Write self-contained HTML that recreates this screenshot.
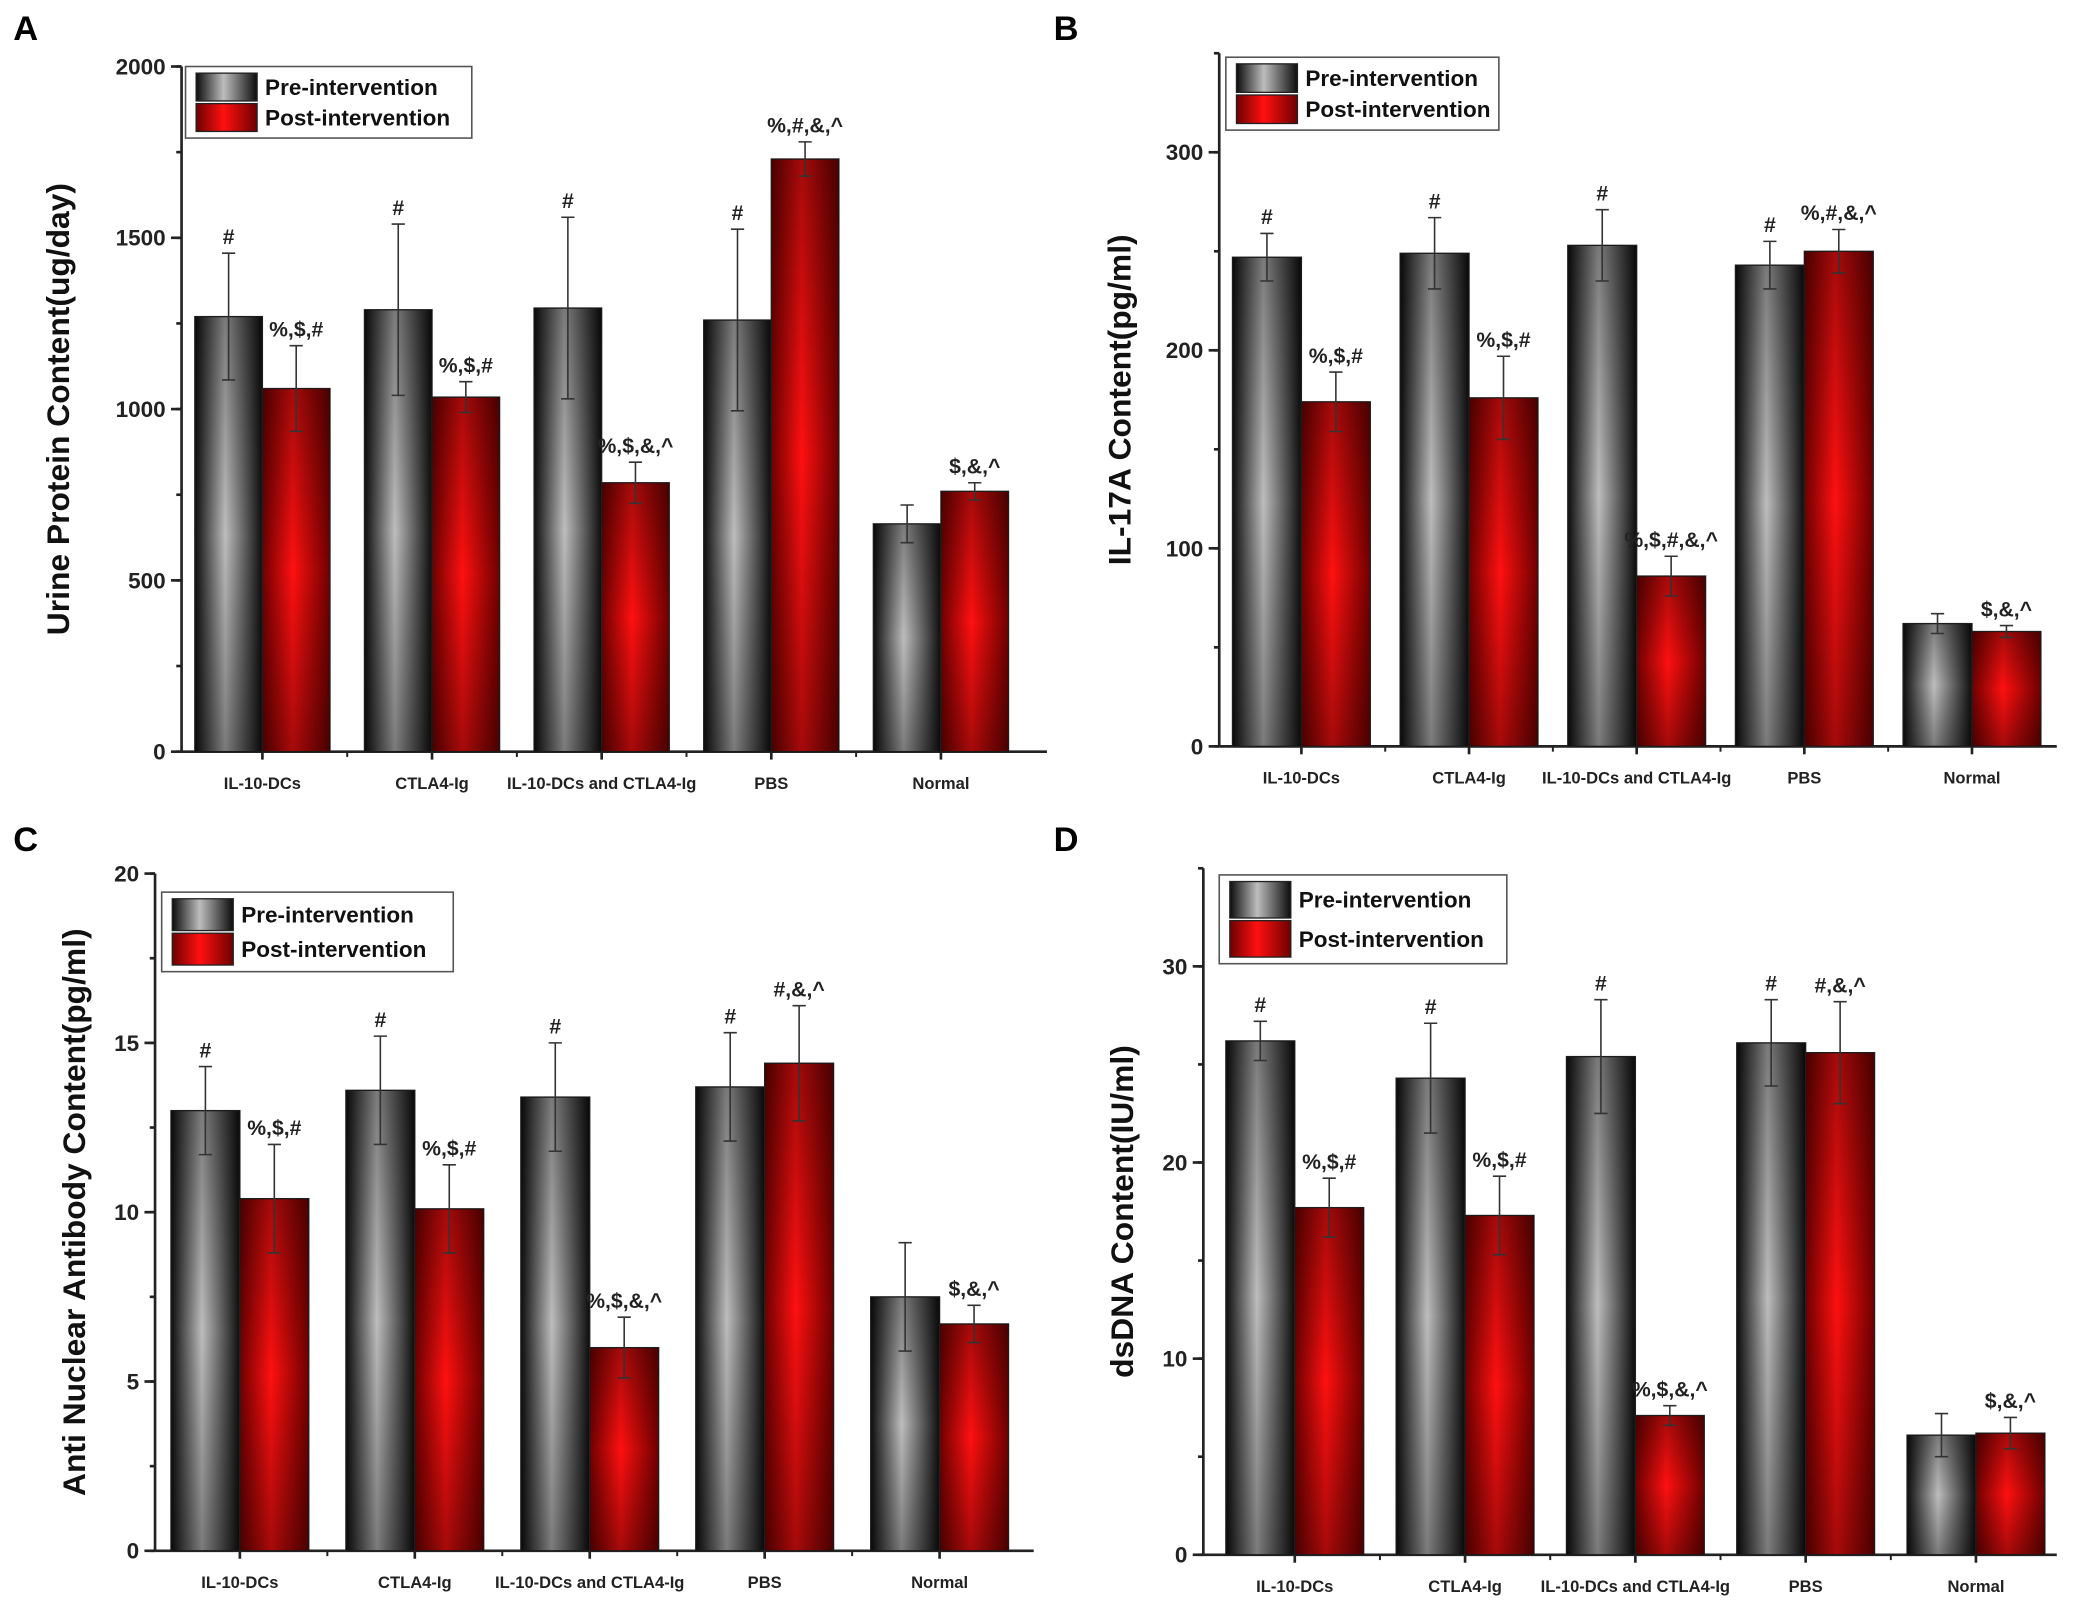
<!DOCTYPE html>
<html><head><meta charset="utf-8"><style>
html,body{margin:0;padding:0;background:#fff;}
svg{display:block;font-family:"Liberation Sans",Arial,sans-serif;font-weight:bold;}
</style></head><body>
<svg id="fig" width="2078" height="1612" viewBox="0 0 1568 1216" xmlns="http://www.w3.org/2000/svg">
<defs>
<linearGradient id="gPre" x1="0" x2="1" y1="0" y2="0">
<stop offset="0" stop-color="#0c0c0c"/><stop offset="0.45" stop-color="#bdbdbd"/><stop offset="1" stop-color="#0c0c0c"/></linearGradient>
<linearGradient id="gPost" x1="0" x2="1" y1="0" y2="0">
<stop offset="0" stop-color="#6e0000"/><stop offset="0.45" stop-color="#ff1010"/><stop offset="1" stop-color="#6e0000"/></linearGradient>
<linearGradient id="gV" x1="0" x2="0" y1="0" y2="1">
<stop offset="0" stop-color="#000" stop-opacity="0.35"/><stop offset="0.5" stop-color="#000" stop-opacity="0"/><stop offset="1" stop-color="#000" stop-opacity="0.35"/></linearGradient>
</defs>
</svg>
<script>
const categories = ["IL-10-DCs","CTLA4-Ig","IL-10-DCs and CTLA4-Ig","PBS","Normal"];
const preA = [1270,1290,1295,1260,665], postA = [1060,1035,785,1730,760];
const preAErr = [185,250,265,265,55], postAErr = [125,45,60,50,25];
const preAnnA = ["#","#","#","#",""], postAnnA = ["%,$,#","%,$,#","%,$,&,^","%,#,&,^","$,&,^"];
const preB = [247,249,253,243,62], postB = [174,176,86,250,58];
const preBErr = [12,18,18,12,5], postBErr = [15,21,10,11,3];
const preAnnB = ["#","#","#","#",""], postAnnB = ["%,$,#","%,$,#","%,$,#,&,^","%,#,&,^","$,&,^"];
const preC = [13.0,13.6,13.4,13.7,7.5], postC = [10.4,10.1,6.0,14.4,6.7];
const preCErr = [1.3,1.6,1.6,1.6,1.6], postCErr = [1.6,1.3,0.9,1.7,0.55];
const preAnnC = ["#","#","#","#",""], postAnnC = ["%,$,#","%,$,#","%,$,&,^","#,&,^","$,&,^"];
const preD = [26.2,24.3,25.4,26.1,6.1], postD = [17.7,17.3,7.1,25.6,6.2];
const preDErr = [1.0,2.8,2.9,2.2,1.1], postDErr = [1.5,2.0,0.5,2.6,0.8];
const preAnnD = ["#","#","#","#",""], postAnnD = ["%,$,#","%,$,#","%,$,&,^","#,&,^","$,&,^"];
const ticksA = [0,500,1000,1500,2000], ticksB = [0,100,200,300], ticksC = [0,5,10,15,20], ticksD = [0,10,20,30];

const NS = "http://www.w3.org/2000/svg";
const svg = document.getElementById("fig");
function mk(tag, attrs, parent){const e=document.createElementNS(NS,tag);for(const k in attrs)e.setAttribute(k,attrs[k]);(parent||svg).appendChild(e);return e;}

const panels = [
 {id:"a",letter:"A",lx:10,ly:30,ax:137,ax2:790,y0:567,yTop:50,vmax:2000,vtop:2000,minor:250,ticks:ticksA,c0:198,dc:128,bw:51,pre:preA,post:postA,preE:preAErr,postE:postAErr,preN:preAnnA,postN:postAnnA,title:"Urine Protein Content(ug/day)",tx:52,leg:[140,50,216,54]},
 {id:"b",letter:"B",lx:795,ly:30,ax:920,ax2:1552,y0:563,yTop:40,vmax:300,vtop:350,minor:50,ticks:ticksB,c0:982,dc:126.5,bw:52,pre:preB,post:postB,preE:preBErr,postE:postBErr,preN:preAnnB,postN:postAnnB,title:"IL-17A Content(pg/ml)",tx:853,leg:[925,43,206,55]},
 {id:"c",letter:"C",lx:10,ly:642,ax:117,ax2:780,y0:1170,yTop:659,vmax:20,vtop:20,minor:2.5,ticks:ticksC,c0:181,dc:132,bw:52,pre:preC,post:postC,preE:preCErr,postE:postCErr,preN:preAnnC,postN:postAnnC,title:"Anti Nuclear Antibody Content(pg/ml)",tx:64,leg:[122,673,220,60]},
 {id:"d",letter:"D",lx:795,ly:642,ax:908,ax2:1552,y0:1173,yTop:655,vmax:30,vtop:35,minor:5,ticks:ticksD,c0:977,dc:128.5,bw:52,pre:preD,post:postD,preE:preDErr,postE:postDErr,preN:preAnnD,postN:postAnnD,title:"dsDNA Content(IU/ml)",tx:855,leg:[920,660,217,67]}
];

panels.forEach(p=>{
  const g = mk("g",{});
  
  
  const yTopVal = p.vtop;
  const y = v => p.y0 - v/yTopVal*(p.y0-p.yTop);
  const lt = mk("text",{x:p.lx,y:p.ly,"font-size":26,fill:"#000"},g); lt.textContent=p.letter;
  
  
  const ya = mk("line",{x1:p.ax,x2:p.ax,y1:p.y0,y2:p.yTop,stroke:"#222","stroke-width":2},g);
  
  
  const xa = mk("line",{x1:p.ax,x2:p.ax2,y1:p.y0,y2:p.y0,stroke:"#222","stroke-width":2},g);
  
  
  for(let v=0; v<=yTopVal+1e-9; v+=p.minor){
    mk("line",{x1:p.ax-4,x2:p.ax,y1:y(v),y2:y(v),stroke:"#222","stroke-width":2},g);
  }
  p.ticks.forEach(t=>{
    mk("line",{x1:p.ax-8,x2:p.ax,y1:y(t),y2:y(t),stroke:"#222","stroke-width":2},g);
    const tl = mk("text",{x:p.ax-12,y:y(t)+6,"font-size":17,"text-anchor":"end",fill:"#222"},g);
    tl.textContent=t;
    
    
  });
  const tcy = (p.y0+p.yTop)/2;
  const tt = mk("text",{x:p.tx,y:tcy,"font-size":24,"text-anchor":"middle",fill:"#111",transform:`rotate(-90 ${p.tx} ${tcy})`},g);
  tt.textContent=p.title;
  
  
  categories.forEach((c,i)=>{
    const cx = p.c0 + i*p.dc;
    mk("line",{x1:cx,x2:cx,y1:p.y0,y2:p.y0+6,stroke:"#222","stroke-width":2},g);
    if(i<4) mk("line",{x1:cx+p.dc/2,x2:cx+p.dc/2,y1:p.y0,y2:p.y0+4,stroke:"#222","stroke-width":1.5},g);
    const cl = mk("text",{x:cx,y:p.y0+28,"font-size":12.5,"text-anchor":"middle",fill:"#222"},g);
    cl.textContent=c;
    
    
    [[p.pre,p.preE,p.preN,"url(#gPre)",-1,"pre"],[p.post,p.postE,p.postN,"url(#gPost)",0,"post"]].forEach(s=>{
      const v=s[0][i], e=s[1][i], bx = cx + s[4]*p.bw;
      const b = mk("rect",{x:bx,y:y(v),width:p.bw,height:p.y0-y(v),fill:s[3],stroke:"#222","stroke-width":1},g);
      
      
      mk("rect",{x:bx,y:y(v),width:p.bw,height:p.y0-y(v),fill:"url(#gV)"},g);
      const mx = bx+p.bw/2;
      const eb = mk("path",{d:`M${mx},${y(v+e)}V${y(v-e)}M${mx-5},${y(v+e)}H${mx+5}M${mx-5},${y(v-e)}H${mx+5}`,stroke:"#333","stroke-width":1.2,fill:"none"},g);
      
      
      if(s[2][i]){
        const an = mk("text",{x:mx,y:y(v+e)-7,"font-size":16,"text-anchor":"middle",fill:"#222"},g);
        an.textContent=s[2][i];
        
        
      }
    });
  });
  const [lx,ly,lw,lh]=p.leg;
  const lg = mk("g",{},g);
  
  
  mk("rect",{x:lx,y:ly,width:lw,height:lh,fill:"#fff",stroke:"#555","stroke-width":1.2},lg);
  const rh = (lh-8)/2;
  [["url(#gPre)","Pre-intervention"],["url(#gPost)","Post-intervention"]].forEach((e,k)=>{
    const ey = ly+4+k*rh;
    const sw = mk("rect",{x:lx+8,y:ey+1,width:46,height:rh-2,fill:e[0],stroke:"#222","stroke-width":1},lg);
    
    
    const et = mk("text",{x:lx+60,y:ey+rh/2+6,"font-size":17,fill:"#111"},lg);
    et.textContent=e[1];
    
    
  });
});
</script>
</body></html>
